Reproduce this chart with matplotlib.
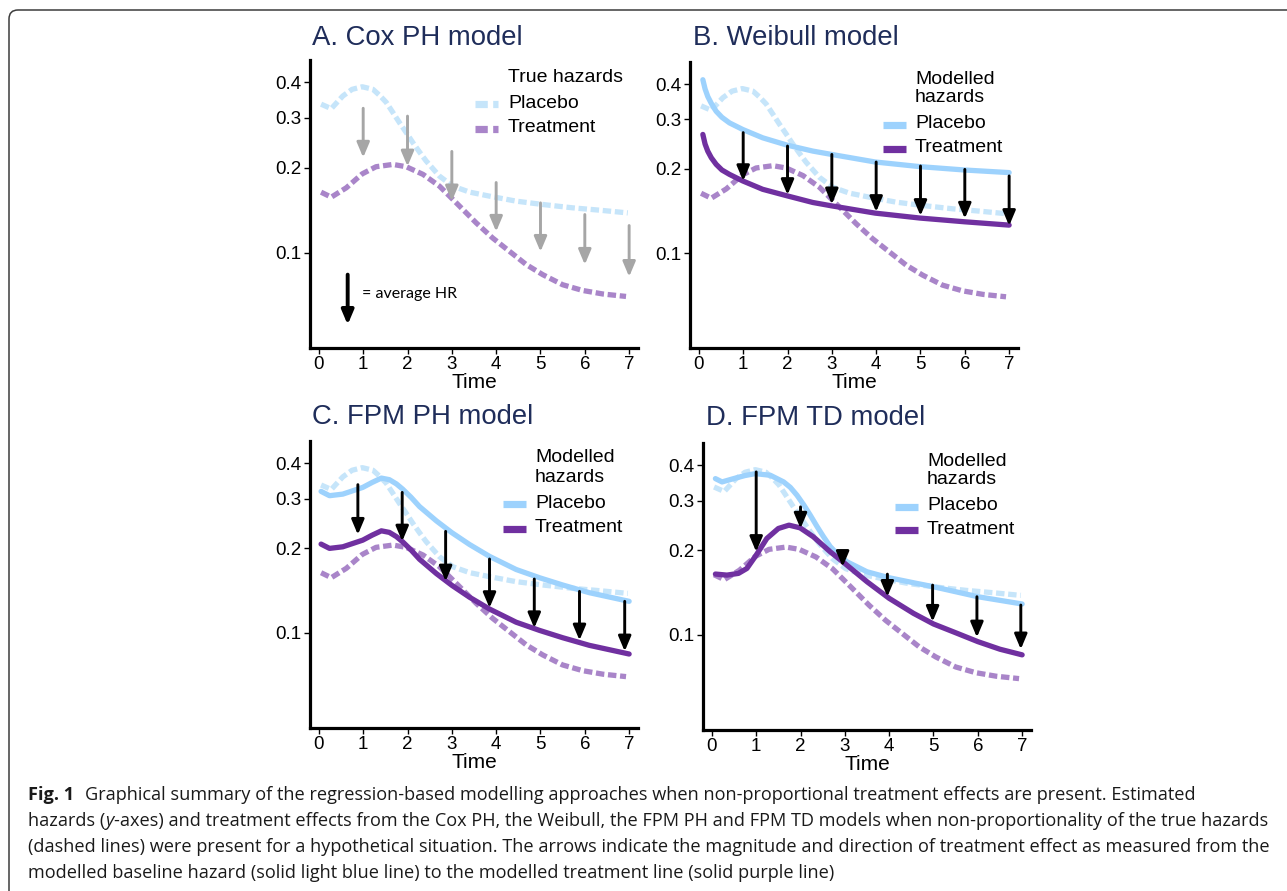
import matplotlib
matplotlib.use("Agg")
import matplotlib.pyplot as plt
from matplotlib.lines import Line2D
from matplotlib.patches import FancyBboxPatch
from matplotlib.transforms import IdentityTransform

W, H = 1287, 891

# ---- true hazards (dashed, same in every panel)
t_true_plac = [0.05, 0.28, 0.54, 0.75, 0.98, 1.22, 1.37, 1.52, 1.67, 1.82, 1.97, 2.12, 2.27, 2.42, 2.72, 3.02, 3.4, 3.85, 4.45, 5.05, 5.73, 6.33, 6.97]
h_true_plac = [0.335, 0.323, 0.358, 0.378, 0.386, 0.378, 0.360, 0.340, 0.313, 0.288, 0.266, 0.245, 0.227, 0.211, 0.1865, 0.1719, 0.1637, 0.1584, 0.1521, 0.148, 0.144, 0.1413, 0.1382]
t_true_trt = [0.05, 0.28, 0.62, 0.98, 1.29, 1.67, 1.97, 2.35, 2.72, 3.1, 3.55, 3.92, 4.3, 4.68, 5.05, 5.5, 5.95, 6.41, 6.93]
h_true_trt = [0.1636, 0.1571, 0.1696, 0.190, 0.2013, 0.2051, 0.2013, 0.1891, 0.1719, 0.150, 0.1274, 0.1127, 0.1011, 0.0907, 0.0836, 0.077, 0.0735, 0.0714, 0.070]

# ---- B. Weibull model
t_wb = [0.09, 0.14, 0.2, 0.28, 0.39, 0.52, 0.69, 0.99, 1.44, 1.99, 2.57, 2.99, 3.98, 4.99, 5.99, 7.0]
h_wb_plac = [0.415, 0.385, 0.362, 0.342, 0.3205, 0.305, 0.2914, 0.276, 0.2578, 0.2428, 0.2312, 0.225, 0.2114, 0.2035, 0.198, 0.1938]
h_wb_trt = [0.265, 0.245, 0.2312, 0.219, 0.2074, 0.198, 0.191, 0.181, 0.169, 0.1602, 0.1517, 0.1476, 0.139, 0.1335, 0.1295, 0.126]

# ---- C. FPM PH model
t_ph = [0.05, 0.24, 0.54, 0.99, 1.2, 1.41, 1.59, 1.75, 1.89, 2.08, 2.27, 2.65, 3.0, 3.4, 3.85, 4.45, 4.98, 5.5, 6.1, 7.0]
h_ph_plac = [0.318, 0.307, 0.311, 0.3285, 0.342, 0.3545, 0.350, 0.338, 0.324, 0.303, 0.281, 0.250, 0.227, 0.206, 0.187, 0.168, 0.157, 0.148, 0.139, 0.1295]
h_ph_trt = [0.2067, 0.1996, 0.2022, 0.2135, 0.2223, 0.2304, 0.2275, 0.2197, 0.2106, 0.197, 0.1827, 0.1625, 0.1476, 0.1339, 0.1216, 0.1092, 0.1021, 0.0962, 0.0904, 0.0842]

# ---- D. FPM TD model
t_td_plac = [0.08, 0.23, 0.49, 0.75, 0.98, 1.32, 1.62, 1.77, 1.92, 2.07, 2.22, 2.37, 2.52, 2.67, 2.82, 3.05, 3.5, 4.0, 4.55, 5.0, 6.0, 7.0]
h_td_plac = [0.3588, 0.3492, 0.3588, 0.368, 0.3737, 0.3687, 0.3492, 0.334, 0.3133, 0.290, 0.2661, 0.243, 0.223, 0.206, 0.1946, 0.1818, 0.1676, 0.1596, 0.1532, 0.1483, 0.1367, 0.1288]
t_td_trt = [0.08, 0.34, 0.6, 0.79, 1.0, 1.24, 1.5, 1.74, 1.99, 2.29, 2.67, 3.0, 3.5, 4.0, 4.55, 5.0, 5.53, 6.0, 6.5, 7.0]
h_td_trt = [0.1645, 0.1631, 0.1654, 0.1722, 0.192, 0.22, 0.2387, 0.2453, 0.24, 0.223, 0.1973, 0.1794, 0.1545, 0.1349, 0.1193, 0.1094, 0.1014, 0.0947, 0.089, 0.085]

# ---- arrows: time, start hazard, end hazard
arr_a_t = [1, 2, 3, 4, 5, 6, 7]
arr_a_from = [0.324, 0.304, 0.228, 0.177, 0.150, 0.1364, 0.1247]
arr_a_to = [0.217, 0.202, 0.152, 0.1187, 0.1008, 0.0907, 0.0822]
arr_b_t = [1, 2, 3, 4, 5, 6, 7]
arr_b_from = [0.269, 0.241, 0.225, 0.2114, 0.2046, 0.199, 0.1886]
arr_b_to = [0.181, 0.1615, 0.1496, 0.1405, 0.136, 0.133, 0.1253]
arr_c_t = [0.88, 1.88, 2.86, 3.85, 4.86, 5.88, 6.9]
arr_c_from = [0.336, 0.3154, 0.2294, 0.183, 0.1554, 0.1405, 0.1295]
arr_c_to = [0.2233, 0.2114, 0.1525, 0.1227, 0.1041, 0.0942, 0.0861]
arr_d_t = [1.0, 2.0, 2.95, 3.96, 4.98, 5.98, 6.97]
arr_d_from = [0.379, 0.2848, 0.1973, 0.1644, 0.1503, 0.1367, 0.1277]
arr_d_to = [0.1973, 0.2387, 0.1746, 0.1367, 0.1115, 0.0981, 0.089]

yticks = [0.1, 0.2, 0.3, 0.4]
xticks = [0, 1, 2, 3, 4, 5, 6, 7]

PLAC_SOLID = '#9dd2fd'
PLAC_DASH = '#c6e5fa'
TRT_SOLID = '#7030a0'
TRT_DASH = '#a985c9'
GREY = '#a6a6a6'
NAVY = '#1f2d5a'

plt.rcParams['font.family'] = ['Liberation Sans', 'DejaVu Sans']

fig = plt.figure(figsize=(W / 100, H / 100), dpi=100)
fig.patch.set_facecolor('white')


def fx(x):
    return x / W


def fy(y):
    return 1 - y / H


def make_ax(left, top, bottom):
    ax = fig.add_axes([fx(left), fy(bottom), 328 / W, (bottom - top) / H])
    ax.set_yscale('log')
    ax.set_xlim(-0.2, 7.2)
    ax.set_ylim(0.046, 0.48)
    ax.set_yticks(yticks)
    ax.set_yticklabels([str(v) for v in yticks])
    ax.yaxis.set_minor_locator(matplotlib.ticker.NullLocator())
    ax.set_xticks(xticks)
    for s in ['top', 'right']:
        ax.spines[s].set_visible(False)
    for s in ['left', 'bottom']:
        ax.spines[s].set_linewidth(2.3)
    ax.tick_params(direction='out', length=4, width=1, labelsize=13.5, pad=2)
    ax.set_xlabel('Time', fontsize=15, labelpad=0)
    return ax


def dashed(ax, t, h, color):
    ax.plot(t, h, color=color, lw=3.8, dashes=(1.6, 0.7), dash_capstyle='butt',
            dash_joinstyle='round')


def solid(ax, t, h, color):
    ax.plot(t, h, color=color, lw=3.8, solid_capstyle='round', solid_joinstyle='round')


def arrows(ax, ts, a, b, color, lw=2.1):
    for t, y0, y1 in zip(ts, a, b):
        ax.annotate('', xy=(t, y1), xytext=(t, y0),
                    arrowprops=dict(arrowstyle='-|>,head_length=0.9,head_width=0.38',
                                    color=color, lw=lw, shrinkA=0, shrinkB=0,
                                    mutation_scale=10))


def legend(x_line, x_text, ys, labels, styles):
    for y, lab in zip(ys, labels):
        fig.text(fx(x_text), fy(y), lab, fontsize=14, va='center', ha='left')
    for y, (color, ls) in zip(ys[-2:], styles):
        ln = Line2D([fx(x_line), fx(x_line + 23)], [fy(y + 1), fy(y + 1)],
                    transform=fig.transFigure, color=color, lw=5.2,
                    solid_capstyle='butt', dash_capstyle='butt')
        if ls == 'dash':
            ln.set_dashes((1.7, 0.75))
        fig.add_artist(ln)


def title(x, y, s):
    fig.text(fx(x), fy(y), s, fontsize=19.8, color=NAVY, va='center', ha='left')


# A
axA = make_ax(310, 60, 348)
dashed(axA, t_true_plac, h_true_plac, PLAC_DASH)
dashed(axA, t_true_trt, h_true_trt, TRT_DASH)
arrows(axA, arr_a_t, arr_a_from, arr_a_to, GREY)
axA.annotate('', xy=(0.65, 0.0556), xytext=(0.65, 0.0836),
             arrowprops=dict(arrowstyle='-|>,head_length=0.85,head_width=0.36',
                             color='black', lw=2.8, shrinkA=0, shrinkB=0, mutation_scale=10))
axA.text(0.97, 0.0715, '= average HR', fontsize=11.5, va='center', ha='left',
         family=['Lato', 'DejaVu Sans'])
title(312, 38, 'A. Cox PH model')
legend(475, 508, [78, 103, 128], ['True hazards', 'Placebo', 'Treatment'],
       [(PLAC_DASH, 'dash'), (TRT_DASH, 'dash')])

# B
axB = make_ax(690, 62, 348)
dashed(axB, t_true_plac, h_true_plac, PLAC_DASH)
dashed(axB, t_true_trt, h_true_trt, TRT_DASH)
solid(axB, t_wb, h_wb_plac, PLAC_SOLID)
solid(axB, t_wb, h_wb_trt, TRT_SOLID)
arrows(axB, arr_b_t, arr_b_from, arr_b_to, 'black')
title(693, 38, 'B. Weibull model')
legend(883, 915, [79, 98, 124, 148], ['Modelled', 'hazards', 'Placebo', 'Treatment'],
       [(PLAC_SOLID, 'solid'), (TRT_SOLID, 'solid')])

# C
axC = make_ax(310, 441, 728)
dashed(axC, t_true_plac, h_true_plac, PLAC_DASH)
dashed(axC, t_true_trt, h_true_trt, TRT_DASH)
solid(axC, t_ph, h_ph_plac, PLAC_SOLID)
solid(axC, t_ph, h_ph_trt, TRT_SOLID)
arrows(axC, arr_c_t, arr_c_from, arr_c_to, 'black')
title(312, 417, 'C. FPM PH model')
legend(503, 535, [458, 477, 503, 528], ['Modelled', 'hazards', 'Placebo', 'Treatment'],
       [(PLAC_SOLID, 'solid'), (TRT_SOLID, 'solid')])

# D
axD = make_ax(703, 443, 730)
dashed(axD, t_true_plac, h_true_plac, PLAC_DASH)
dashed(axD, t_true_trt, h_true_trt, TRT_DASH)
solid(axD, t_td_plac, h_td_plac, PLAC_SOLID)
solid(axD, t_td_trt, h_td_trt, TRT_SOLID)
arrows(axD, arr_d_t, arr_d_from, arr_d_to, 'black')
title(706, 418, 'D. FPM TD model')
legend(895, 927, [462, 480, 506, 529], ['Modelled', 'hazards', 'Placebo', 'Treatment'],
       [(PLAC_SOLID, 'solid'), (TRT_SOLID, 'solid')])

# frame
frame = FancyBboxPatch((9, -30), 1400, H - 10 + 30, boxstyle='round,pad=0,rounding_size=9',
                       transform=IdentityTransform(), fill=False, ec='#3c3c3c', lw=1.1)
fig.add_artist(frame)

# caption
cap_font = ['Open Sans', 'DejaVu Sans']
cap_size = 13.1
renderer = fig.canvas.get_renderer()


def run(x, y, parts):
    for s, kw in parts:
        t = fig.text(x, H - y, s, transform=IdentityTransform(), fontsize=cap_size,
                     family=cap_font, va='center', ha='left', color='#1a1a1a', **kw)
        x += t.get_window_extent(renderer).width


fb = fig.text(28, H - 795, 'Fig. 1', transform=IdentityTransform(), fontsize=cap_size,
              family=cap_font, weight='bold', va='center', ha='left', color='#1a1a1a')
wb = fb.get_window_extent(renderer).width
run(28 + wb + 11, 795, [('Graphical summary of the regression-based modelling approaches when '
                         'non-proportional treatment effects are present. Estimated', {})])
run(28, 821, [('hazards (', {}), ('y', {'style': 'italic'}),
              ('-axes) and treatment effects from the Cox PH, the Weibull, the FPM PH and FPM TD '
               'models when non-proportionality of the true hazards', {})])
run(28, 847, [('(dashed lines) were present for a hypothetical situation. The arrows indicate the '
               'magnitude and direction of treatment effect as measured from the', {})])
run(28, 873, [('modelled baseline hazard (solid light blue line) to the modelled treatment line '
               '(solid purple line)', {})])

fig.savefig('out.png', dpi=100)
